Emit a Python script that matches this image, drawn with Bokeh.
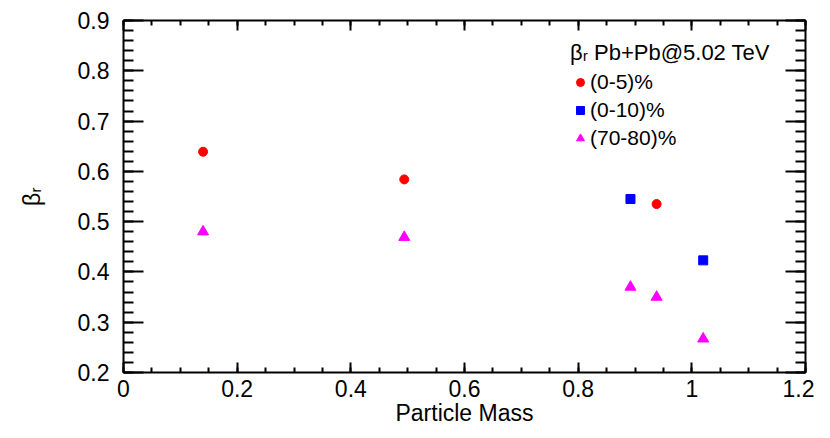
from bokeh.plotting import figure
from bokeh.models import (Range1d, FixedTicker, NumeralTickFormatter, LinearAxis,
                          CustomJSTickFormatter, Legend)
from bokeh.embed import file_html
from bokeh.resources import INLINE

# Data
mass_05 = [0.140, 0.494, 0.938]
beta_05 = [0.639, 0.584, 0.535]
mass_010 = [0.892, 1.020]
beta_010 = [0.545, 0.423]
mass_7080 = [0.140, 0.494, 0.892, 0.938, 1.020]
beta_7080 = [0.480, 0.469, 0.370, 0.350, 0.267]

x_ticks = [0, 0.2, 0.4, 0.6, 0.8, 1.0, 1.2]
y_ticks = [0.2, 0.3, 0.4, 0.5, 0.6, 0.7, 0.8, 0.9]
x_minor = [round(i * 0.05, 3) for i in range(0, 25)]
y_minor = [round(0.2 + i * 0.02, 3) for i in range(0, 36)]

FONT = "Liberation Sans"

p = figure(width=814, height=430, output_backend="svg", toolbar_location=None,
           x_range=Range1d(0, 1.2), y_range=Range1d(0.2, 0.9),
           min_border_left=123, min_border_right=9, min_border_top=20,
           min_border_bottom=58)
p.xgrid.visible = False
p.ygrid.visible = False
p.outline_line_color = None

xt = FixedTicker(ticks=x_ticks, minor_ticks=x_minor)
yt = FixedTicker(ticks=y_ticks, minor_ticks=y_minor)

def style(ax, major_in, minor_in):
    ax.axis_line_width = 2
    ax.axis_line_color = "black"
    ax.major_tick_line_width = 2
    ax.minor_tick_line_width = 2
    ax.major_tick_in = major_in
    ax.major_tick_out = 0
    ax.minor_tick_in = minor_in
    ax.minor_tick_out = 0
    ax.major_label_text_font = FONT
    ax.major_label_text_font_size = "23px"
    ax.major_label_text_color = "black"
    ax.axis_label_text_font = FONT
    ax.axis_label_text_font_size = "23px"
    ax.axis_label_text_font_style = "normal"
    ax.axis_label_text_color = "black"

xa = p.xaxis[0]
xa.ticker = xt
xa.formatter = NumeralTickFormatter(format="0.[0]")
style(xa, 10, 5)
xa.major_label_standoff = 7
xa.axis_label = "Particle Mass"
xa.axis_label_standoff = 0

ya = p.yaxis[0]
ya.ticker = yt
ya.formatter = NumeralTickFormatter(format="0.0")
style(ya, 20, 10)
ya.major_label_standoff = 14
ya.axis_label = "βᵣ"
ya.axis_label_text_font_size = "23px"
ya.axis_label_standoff = 30

blank = CustomJSTickFormatter(code="return ''")
top = LinearAxis(ticker=xt, formatter=blank)
style(top, 10, 5)
top.major_label_standoff = 0
p.add_layout(top, "above")
right = LinearAxis(ticker=yt, formatter=blank)
style(right, 20, 10)
right.major_label_standoff = 0
p.add_layout(right, "right")

r1 = p.scatter(mass_05, beta_05, marker="circle", size=9, color="red")
r2 = p.scatter(mass_010, beta_010, marker="square", size=9, color="blue")
r3 = p.scatter(mass_7080, beta_7080, marker="triangle", size=11, color="magenta")

legend = Legend(items=[("(0-5)%", [r1]), ("(0-10)%", [r2]), ("(70-80)%", [r3])],
                location=(447, 220), title="βᵣ Pb+Pb@5.02 TeV")
legend.title_text_font = FONT
legend.title_text_font_size = "22px"
legend.title_text_font_style = "normal"
legend.title_text_color = "black"
legend.title_standoff = 2
legend.label_text_font = FONT
legend.label_text_font_size = "21px"
legend.label_text_color = "black"
legend.label_standoff = 0
legend.glyph_width = 20
legend.glyph_height = 20
legend.label_height = 28
legend.spacing = 0
legend.padding = 0
legend.margin = 0
legend.border_line_color = None
legend.background_fill_alpha = 0
p.add_layout(legend, "center")

open("out.html", "w").write(file_html(p, INLINE))
